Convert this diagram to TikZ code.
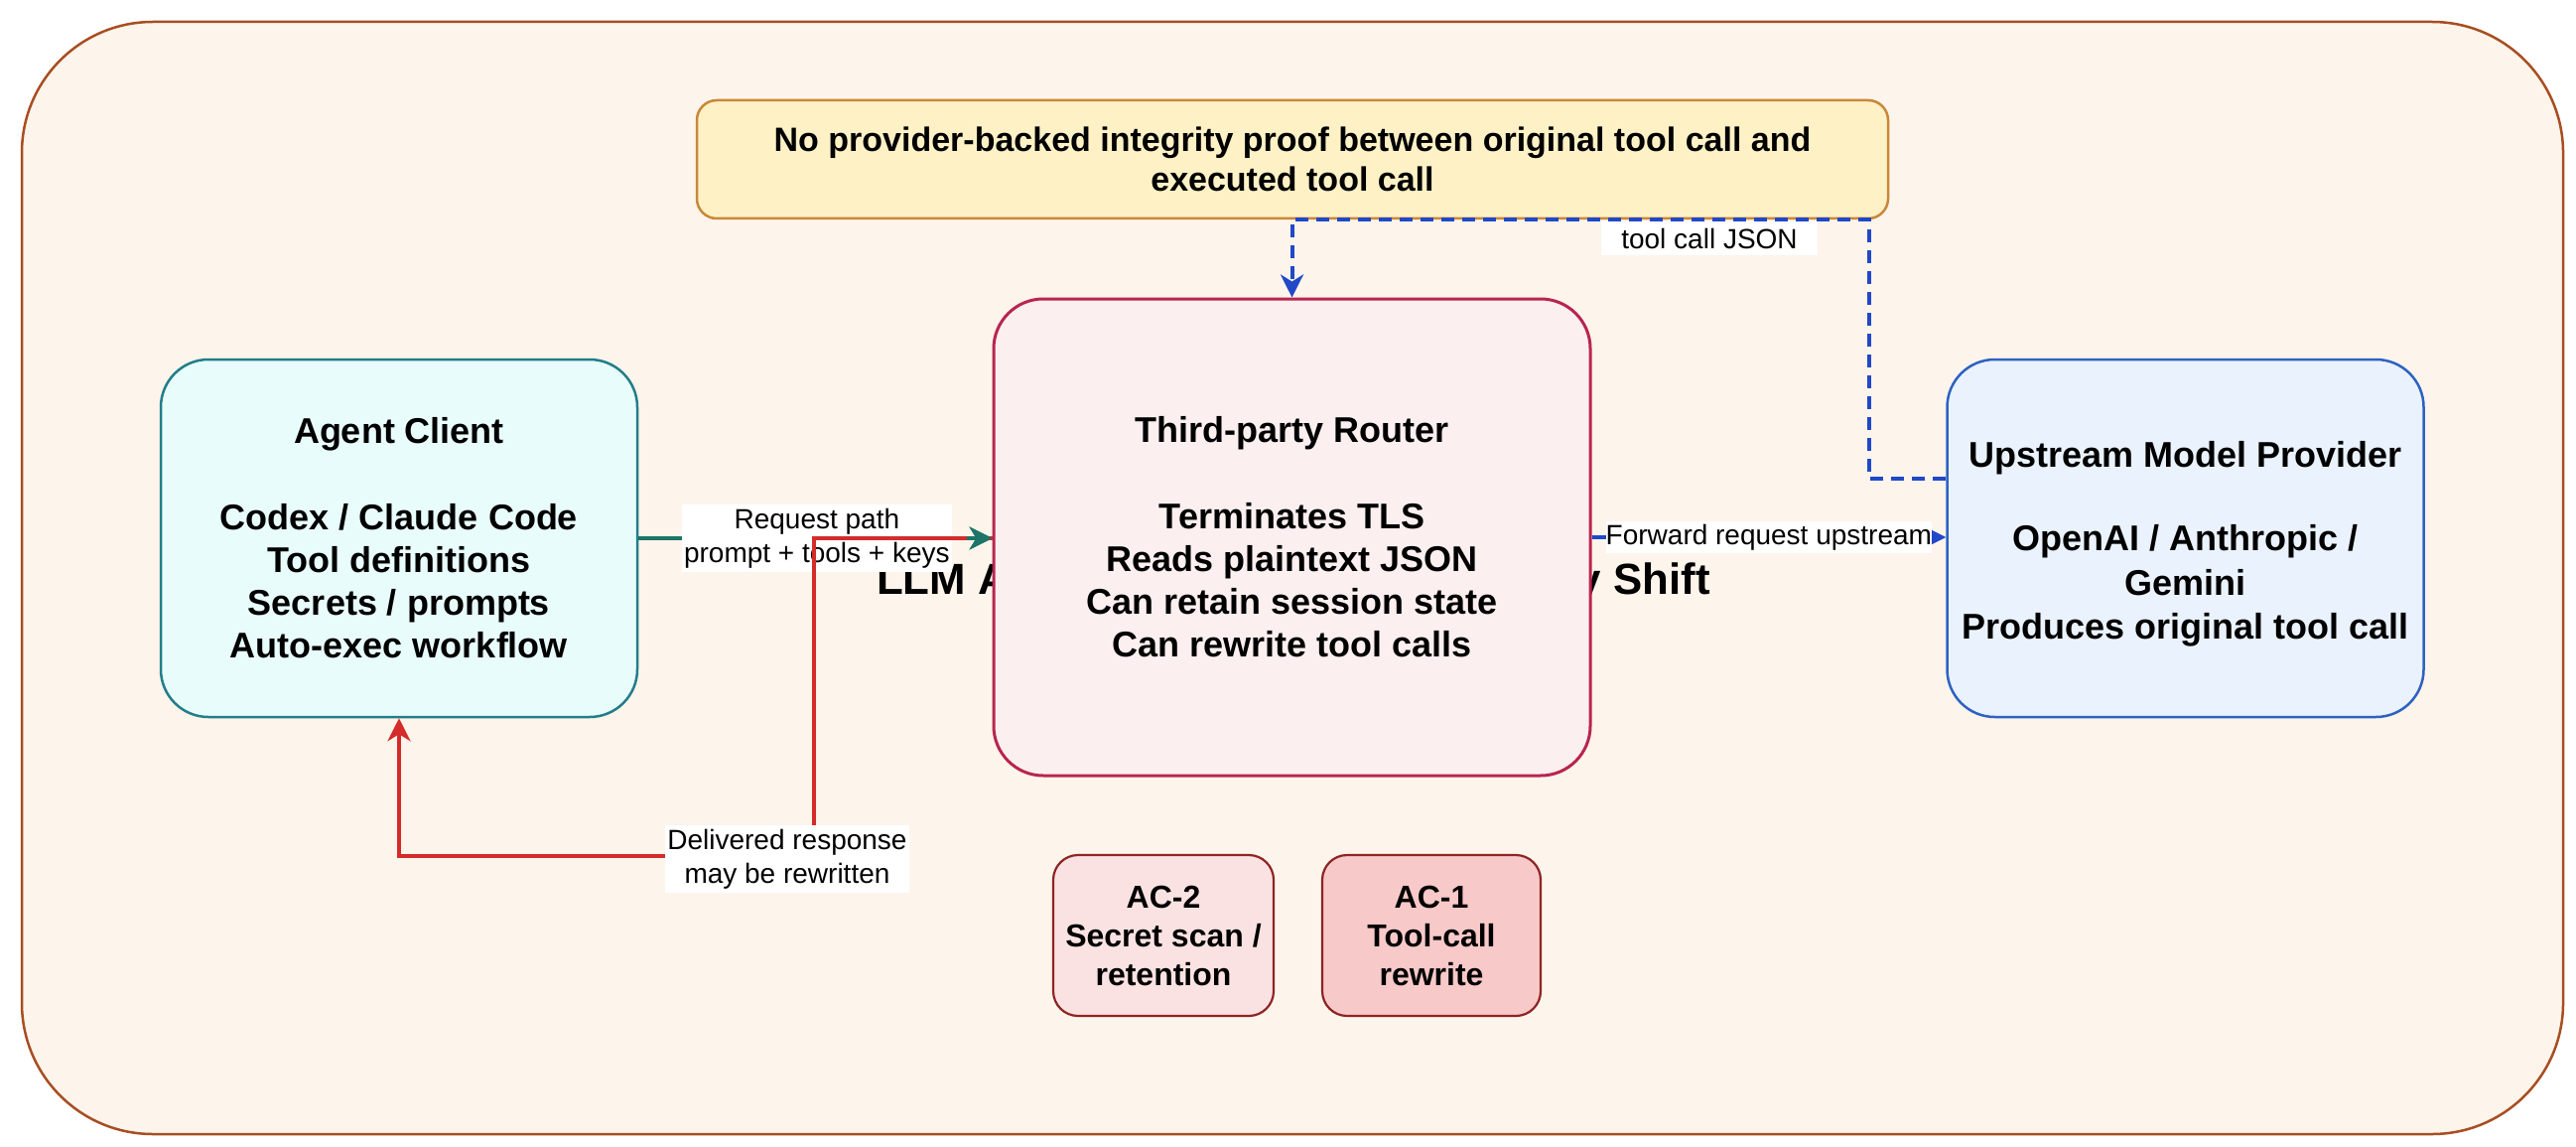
\documentclass[tikz,border=0pt]{standalone}
\usepackage{fontspec}
\setmainfont{Liberation Sans}
\usetikzlibrary{arrows.meta,calc}
\definecolor{outerfill}{HTML}{FDF4EB}
\definecolor{outerline}{HTML}{A84E22}
\definecolor{yelfill}{HTML}{FFF1C6}
\definecolor{yelline}{HTML}{C8883A}
\definecolor{routfill}{HTML}{FCEFF0}
\definecolor{routline}{HTML}{B8254F}
\definecolor{agfill}{HTML}{E9FCFC}
\definecolor{agline}{HTML}{217E8A}
\definecolor{upfill}{HTML}{EAF2FD}
\definecolor{upline}{HTML}{2D62C2}
\definecolor{acline}{HTML}{8E2424}
\definecolor{actwofill}{HTML}{FBE2E2}
\definecolor{aconefill}{HTML}{F8C9C9}
\definecolor{tealc}{HTML}{1D7468}
\definecolor{redc}{HTML}{D42B2B}
\definecolor{bluec}{HTML}{2148C8}
\begin{document}
\begin{tikzpicture}[x=0.5pt,y=-0.5pt,
  box/.style={draw, rounded corners=24pt, line width=1.25pt, align=center, inner sep=0pt,
    font=\fontsize{18}{21.6}\selectfont\bfseries, text=black},
  acbox/.style={draw=acline, rounded corners=12.5pt, line width=1.1pt, align=center, inner sep=0pt,
    minimum width=111pt, minimum height=81pt, font=\fontsize{16}{19.5}\selectfont\bfseries},
  lbl/.style={fill=white, align=center, inner xsep=1pt, inner ysep=2pt, text=black,
    font=\fontsize{14}{17}\selectfont},
  tip/.style={-{Stealth[length=11.5pt,width=11.5pt,inset=3.5pt]}},
]
\fill[white] (0,0) rectangle (2595,1155);
\useasboundingbox (0,0) rectangle (2595,1155);
\draw[draw=outerline, fill=outerfill, line width=1.25pt, rounded corners=66pt] (22,22) rectangle (2582,1142);

% title (mostly hidden behind the router)
\node[anchor=base, font=\fontsize{21.9}{26}\selectfont\bfseries, inner sep=0pt] (title) at (1303,598)
  {LLM API Router Security Boundary Shift};

% nodes
\node[box, draw=yelline, fill=yelfill, rounded corners=10pt, minimum width=600pt, minimum height=59.5pt,
  font=\fontsize{17}{20}\selectfont\bfseries] (yellow) at (1302,160.5)
  {No provider-backed integrity proof between original tool call and\\executed tool call};
\node[box, draw=routline, fill=routfill, line width=1.5pt, rounded corners=25pt,
  minimum width=300.5pt, minimum height=240pt] (router) at (1301.5,541)
  {Third-party Router\\[21.6pt]Terminates TLS\\Reads plaintext JSON\\Can retain session state\\Can rewrite tool calls};
\node[box, draw=agline, fill=agfill, minimum width=240pt, minimum height=180pt] (agent) at (402,542)
  {Agent Client\\[21.6pt]Codex / Claude Code\\Tool definitions\\Secrets / prompts\\Auto-exec workflow};
\node[box, draw=upline, fill=upfill, minimum width=240pt, minimum height=180pt] (upstream) at (2201.5,542) {};
\node[align=center, inner sep=0pt, font=\fontsize{18}{22.3}\selectfont\bfseries] (uptext) at (2201.5,548)
  {Upstream Model Provider\\[19.7pt]OpenAI / Anthropic /\\Gemini\\Produces original tool call};
\node[acbox, fill=actwofill] (ac2) at (1172,942) {AC-2\\Secret scan /\\retention};
\node[acbox, fill=aconefill, minimum width=110pt] (ac1) at (1442,942) {AC-1\\Tool-call\\rewrite};

% request path (teal)
\coordinate (rin) at (agent.east -| router.west);
\draw[tealc, line width=1.6pt, tip] (agent.east) -- (rin)
  node[lbl, midway, xshift=0.75pt] {Request path\\prompt + tools + keys};

% delivered response (red)
\draw[redc, line width=2pt, tip] (rin) -- ++(-180,0) -- ++(0,320) -| (agent.south);
\node[lbl] (dlbl) at (793,865) {Delivered response\\may be rewritten};
% teal arrow tip drawn over the red line
\draw[tealc, line width=1.6pt, tip] ($(rin)+(-26,0)$) -- (rin);

% forward request (blue)
\draw[bluec, line width=1.75pt, tip] (router.east) -- (router.east -| upstream.west)
  node[lbl, midway, inner xsep=0pt, inner ysep=1.5pt] {Forward request upstream};

% tool call JSON (blue dashed)
\coordinate (dstart) at ($(upstream.north west)!0.3333!(upstream.south west)$);
\coordinate (dturn) at ($(yellow.south east)+(-20,0)$);
\draw[bluec, line width=2pt, dash pattern=on 6.5pt off 4pt, tip] (dstart) -| (dturn) -| (router.north);
\node[lbl, inner xsep=10pt, minimum height=17pt] (jlbl) at (1722,240) {tool call JSON};
\end{tikzpicture}
\end{document}
